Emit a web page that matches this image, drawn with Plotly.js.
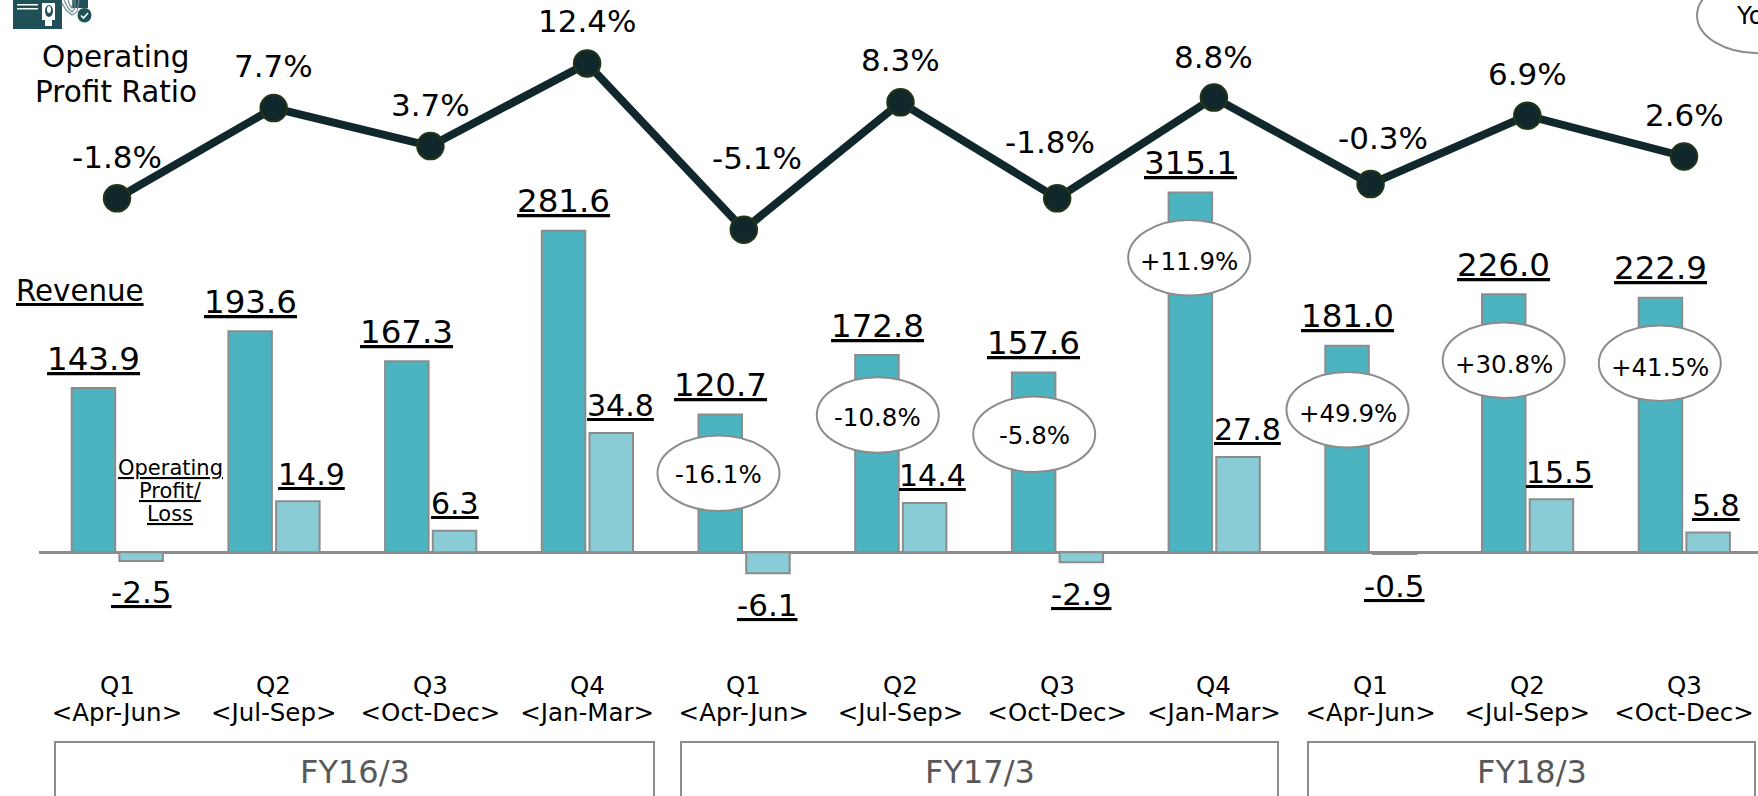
<!DOCTYPE html>
<html>
<head>
<meta charset="utf-8">
<script src="https://cdn.plot.ly/plotly-3.0.1.min.js"></script>
<style>html,body{margin:0;padding:0;background:#fff;overflow:hidden}#chart{width:1758px;height:796px}</style>
</head>
<body>
<div id="chart"></div>
<script>
// ---- data ----
const quarters = ['Q1','Q2','Q3','Q4','Q1','Q2','Q3','Q4','Q1','Q2','Q3'];
const periods = ['&lt;Apr-Jun&gt;','&lt;Jul-Sep&gt;','&lt;Oct-Dec&gt;','&lt;Jan-Mar&gt;','&lt;Apr-Jun&gt;','&lt;Jul-Sep&gt;','&lt;Oct-Dec&gt;','&lt;Jan-Mar&gt;','&lt;Apr-Jun&gt;','&lt;Jul-Sep&gt;','&lt;Oct-Dec&gt;'];
const revenue = [143.9,193.6,167.3,281.6,120.7,172.8,157.6,315.1,181.0,226.0,222.9];
const operatingProfit = [-2.5,14.9,6.3,34.8,-6.1,14.4,-2.9,27.8,-0.5,15.5,5.8];
const profitRatio = [-1.8,7.7,3.7,12.4,-5.1,8.3,-1.8,8.8,-0.3,6.9,2.6];
const yoyLabels = ['-16.1%','-10.8%','-5.8%','+11.9%','+49.9%','+30.8%','+41.5%'];
const fiscalYears = ['FY16/3','FY17/3','FY18/3'];

// ---- layout constants (pixels) ----
const W = 1758, H = 796, plotL = 39, plotB = 695;
const x0px = 117, stepPx = 156.7, zeroPx = 552.3;
const revPx = 1.1415, opPx = 3.43, ratioPx = 9.5, ratioZeroPx = 181.2;
const barW = 43.5;
const px = v => (v - plotL) / (W - plotL);
const py = v => (plotB - v) / plotB;
const ovalCentres = [[718.5,473.3],[877.8,415],[1034.2,434.3],[1189.2,257.7],[1347.5,409.7],[1503.7,360.3],[1659.8,363.3]];
const ovalTextDy = [1,2,1,3.5,3.7,4,4.4];
const ovalRx = 61, ovalRy = 37.7;
const ratioShift = [[0,-41],[0,-42],[0,-41],[0,-42],[13,-72],[0,-42],[-7,-56],[0,-41],[12,-46],[0,-42],[0,-42]];
const opShift = [0,14,0.6,9,0,8,0,10,0,8,8];
const boxes = [[55,654],[681,1278],[1308,1755]];

const ink = '#000000', edge = '#8c8c8c', dark = '#4cb3c1', light = '#8accd6';
const lineCol = '#10272b', logo = '#1f5058';
const FONT = '"DejaVu Sans", Verdana, sans-serif';

const xs = revenue.map((_, i) => i);
const traces = [
  {type:'bar', x:xs, y:revenue, yaxis:'y', width:barW/stepPx, offset:-45.3/stepPx,
   marker:{color:dark, line:{color:edge, width:2}}, hoverinfo:'skip', showlegend:false, name:'Revenue'},
  {type:'bar', x:xs, y:operatingProfit, yaxis:'y2', width:barW/stepPx, offset:2.4/stepPx,
   marker:{color:light, line:{color:edge, width:2}}, hoverinfo:'skip', showlegend:false, name:'Operating Profit/Loss'},
  {type:'scatter', mode:'lines+markers', x:xs, y:profitRatio, yaxis:'y3',
   line:{color:lineCol, width:8}, marker:{size:26.5, color:lineCol, line:{color:'#243516', width:2}},
   hoverinfo:'skip', showlegend:false, cliponaxis:false, name:'Operating Profit Ratio'}
];

const anns = [];
const under = (size, color) => ({family:FONT, size, color:color||ink, lineposition:'under'});
const plain = (size, color) => ({family:FONT, size, color:color||ink});
function pixelText(x, y, text, font, xanchor){
  anns.push({xref:'paper', yref:'paper', x:px(x), y:py(y), text, font, showarrow:false,
    xanchor:xanchor||'center', yanchor:'middle', borderpad:0, borderwidth:0});
}
// value labels tied to the marks
revenue.forEach((v,i)=>anns.push({xref:'x', yref:'y', x:i, y:v, text:v.toFixed(1), font:under(32.5),
  showarrow:false, xanchor:'center', yanchor:'bottom', xshift:-23.5, yshift:9.5, borderpad:0}));
operatingProfit.forEach((v,i)=>anns.push({xref:'x', yref:'y2', x:i, y:v, text:v.toFixed(1), font:under(v<0?31:30),
  showarrow:false, xanchor:'center', yanchor:v<0?'top':'bottom', xshift:24+opShift[i], yshift:v<0?-12.5:8.5, borderpad:0}));
profitRatio.forEach((v,i)=>anns.push({xref:'x', yref:'y3', x:i, y:v, text:v.toFixed(1)+'%', font:plain(31),
  showarrow:false, xanchor:'center', yanchor:'middle', xshift:ratioShift[i][0], yshift:-ratioShift[i][1], borderpad:0}));
// quarter row
quarters.forEach((q,i)=>pixelText(x0px+i*stepPx, 685, q, plain(24.5)));
// notes
pixelText(116, 57, 'Operating', plain(29.5));
pixelText(116, 92, 'Profit Ratio', plain(29.5));
pixelText(16, 291, 'Revenue', under(29.3), 'left');
pixelText(170, 468, 'Operating', under(21));
pixelText(170, 491, 'Profit/', under(21));
pixelText(170, 514, 'Loss', under(21));
// YoY ovals
yoyLabels.forEach((t,i)=>pixelText(ovalCentres[i][0], ovalCentres[i][1]+ovalTextDy[i], t, plain(24.5)));
pixelText(1758, 16, 'YoY', plain(24.5));
// fiscal years
fiscalYears.forEach((t,i)=>pixelText((boxes[i][0]+boxes[i][1])/2, 772, t, plain(32,'#595959')));

const shapes = [];
ovalCentres.concat([[1758,15.5]]).forEach(c=>shapes.push({type:'circle', xref:'paper', yref:'paper',
  x0:px(c[0]-ovalRx), x1:px(c[0]+ovalRx), y0:py(c[1]+ovalRy), y1:py(c[1]-ovalRy),
  fillcolor:'#ffffff', line:{color:edge, width:2}, layer:'above'}));
boxes.forEach(b=>shapes.push({type:'rect', xref:'paper', yref:'paper',
  x0:px(b[0]), x1:px(b[1]), y0:py(742), y1:py(802), fillcolor:'rgba(0,0,0,0)', line:{color:edge, width:2}}));
// small logo top-left
function pxRect(a,b,c,d,col){shapes.push({type:'rect',xref:'paper',yref:'paper',x0:px(a),x1:px(c),y0:py(b),y1:py(d),fillcolor:col,line:{width:0}});}
function pxOval(a,b,c,d,col){shapes.push({type:'circle',xref:'paper',yref:'paper',x0:px(a),x1:px(c),y0:py(b),y1:py(d),fillcolor:col,line:{width:0}});}
function pxPath(pts,col,w){shapes.push({type:'path',xref:'paper',yref:'paper',path:'M'+pts.map(p=>px(p[0])+' '+py(p[1])).join(' L'),line:{color:col,width:w}});}
pxRect(13,-1,62,29,logo);
pxRect(17,4,38,5.5,'#ffffff');
pxRect(17,8,38,9.5,'#ffffff');
pxRect(42,3,55,20,'#ffffff');
pxRect(45,20,52,26,'#ffffff');
pxOval(45,5,53,17,logo);
pxOval(47,6,51,13,'#ffffff');
pxRect(72,-1,88,8,logo);
pxPath([[62,3],[66,10],[72,15],[77,12],[79,0]],'#6d8f94',1.2);
pxPath([[64,0],[68,8],[72,12],[75,8],[75,0]],'#6d8f94',1.2);
pxPath([[68,0],[70,6],[72,8],[73,0]],'#6d8f94',1.2);
pxOval(77.5,8,91.5,22.5,logo);
pxPath([[81,15.5],[83.5,18],[88,13]],'#ffffff',1.6);

const hidden = {visible:true, showgrid:false, showticklabels:false, showline:false, ticks:'', zeroline:false, fixedrange:true};
const layout = {
  width:W, height:H, autosize:false,
  margin:{l:plotL, r:0, t:0, b:H-plotB, pad:0},
  paper_bgcolor:'#ffffff', plot_bgcolor:'#ffffff',
  showlegend:false, bargap:0,
  font:{family:FONT, color:ink},
  xaxis:{type:'linear', range:[(plotL-x0px)/stepPx,(W-x0px)/stepPx], tickmode:'array', tickvals:xs, ticktext:periods,
    tickfont:{family:FONT,size:24.5,color:ink}, tickangle:0, ticks:'', showgrid:false, showline:false, zeroline:false, fixedrange:true},
  yaxis:Object.assign({}, hidden, {range:[(zeroPx-plotB)/revPx, zeroPx/revPx], zeroline:true, zerolinecolor:edge, zerolinewidth:2.5}),
  yaxis2:Object.assign({}, hidden, {overlaying:'y', range:[(zeroPx-plotB)/opPx, zeroPx/opPx]}),
  yaxis3:Object.assign({}, hidden, {overlaying:'y', range:[(ratioZeroPx-plotB)/ratioPx, ratioZeroPx/ratioPx]}),
  annotations:anns, shapes:shapes
};
Plotly.newPlot('chart', traces, layout, {displayModeBar:false, staticPlot:true});
</script>
</body>
</html>
